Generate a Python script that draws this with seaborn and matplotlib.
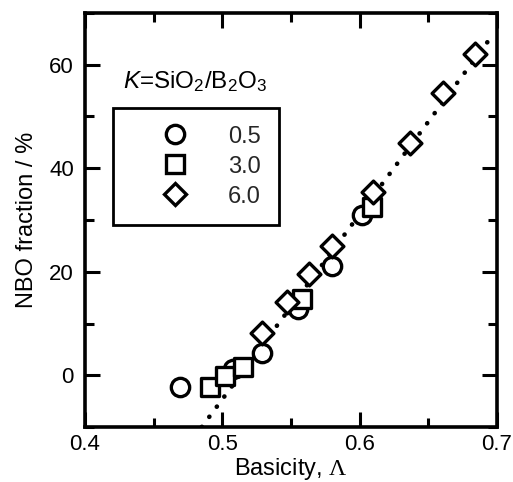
import matplotlib
matplotlib.use('Agg')
import matplotlib.pyplot as plt
import seaborn as sns
from matplotlib.lines import Line2D
from matplotlib.ticker import MultipleLocator

# ---- data ----
k05_x = [0.469, 0.508, 0.529, 0.5554, 0.5797, 0.6015]
k05_y = [-2.3, 1.2, 4.3, 12.8, 21.2, 30.9]

k30_x = [0.491, 0.502, 0.5149, 0.5578, 0.6088]
k30_y = [-2.3, -0.2, 1.6, 14.8, 32.5]

k60_x = [0.529, 0.547, 0.563, 0.580, 0.6095, 0.637, 0.6605, 0.684]
k60_y = [8.2, 14.2, 19.6, 24.9, 35.5, 44.9, 54.6, 62.1]

fit_x = [0.485, 0.697]
fit_y = [-10.0, 65.8]

labels = ["0.5", "3.0", "6.0"]
x_ticks = [0.4, 0.5, 0.6, 0.7]
y_ticks = [0, 20, 40, 60]

# ---- style ----
sns.set_theme(style='ticks')
plt.rcParams['font.family'] = ['Liberation Sans', 'DejaVu Sans']
plt.rcParams['mathtext.fontset'] = 'custom'
plt.rcParams['mathtext.rm'] = 'Liberation Sans'
plt.rcParams['mathtext.it'] = 'Liberation Sans:italic'
plt.rcParams['mathtext.tt'] = 'Liberation Serif'

fig = plt.figure(figsize=(5.13, 4.82), dpi=100)
ax = fig.add_axes([85/513, 1 - 427/482, 412/513, 414/482])

sns.lineplot(x=fit_x, y=fit_y, color='black', lw=3.3, zorder=1, ax=ax)
line = ax.lines[-1]
line.set_dashes((0.05, 2.7))
line.set_dash_capstyle('round')

ew = 2.4
ms_o, ms_s, ms_d = 13.2, 13.0, 11.6
sns.scatterplot(x=k05_x, y=k05_y, marker='o', s=ms_o**2, color='white',
                edgecolor='black', linewidth=ew, ax=ax, zorder=3)
sns.scatterplot(x=k30_x, y=k30_y, marker='s', s=ms_s**2, color='white',
                edgecolor='black', linewidth=ew, ax=ax, zorder=4)
sns.scatterplot(x=k60_x, y=k60_y, marker='D', s=ms_d**2, color='white',
                edgecolor='black', linewidth=ew, ax=ax, zorder=5)

ax.set_xlim(0.4, 0.7)
ax.set_ylim(-10, 70)
ax.set_xticks(x_ticks)
ax.set_xticklabels([f"{v:.1f}" for v in x_ticks])
ax.set_yticks(y_ticks)
ax.set_yticklabels([str(v) for v in y_ticks])
ax.xaxis.set_minor_locator(MultipleLocator(0.05))
ax.yaxis.set_minor_locator(MultipleLocator(10))

for s in ax.spines.values():
    s.set_linewidth(2.6)
    s.set_color('black')

ax.tick_params(which='both', direction='in', top=True, right=True,
               width=2.2, color='black', labelsize=16, labelcolor='black')
ax.tick_params(which='major', length=11)
ax.tick_params(which='minor', length=6.5)
ax.tick_params(axis='x', which='major', pad=5)
ax.tick_params(axis='y', which='major', pad=8)

ax.set_xlabel(r'Basicity, $\mathtt{\Lambda}$', fontsize=17, labelpad=1, color='black')
ax.set_ylabel('NBO fraction / %', fontsize=17, labelpad=8, color='black')

handles = [
    Line2D([], [], ls='none', marker='o', ms=ms_o, mfc='white', mec='black', mew=ew),
    Line2D([], [], ls='none', marker='s', ms=ms_s, mfc='white', mec='black', mew=ew),
    Line2D([], [], ls='none', marker='D', ms=ms_d, mfc='white', mec='black', mew=ew),
]
leg = ax.legend(handles, labels, loc='upper left',
                bbox_to_anchor=(113/513, 1 - 108/482), bbox_transform=fig.transFigure,
                borderaxespad=0, fontsize=17, handlelength=3.75, handletextpad=0.37,
                borderpad=0.75, labelspacing=0.34, fancybox=False, framealpha=1,
                edgecolor='black')
leg.get_frame().set_linewidth(2.0)

fig.text(123/513, 1 - 88/482, r'$\mathit{K}$=SiO$_2$/B$_2$O$_3$', fontsize=17.5,
         ha='left', va='baseline', color='black')

fig.savefig('out.png', dpi=100, facecolor='white')
